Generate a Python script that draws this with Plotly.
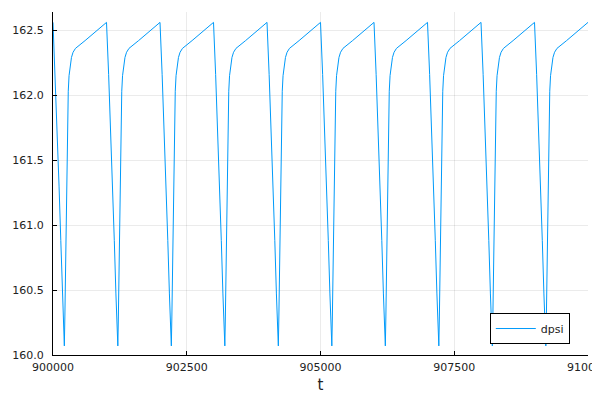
import plotly.graph_objects as go

# One period of the dpsi curve: offset from each peak (t) and value
cycle_offsets = [0, 40, 80, 113, 146, 176, 200, 212, 222, 232, 242, 255, 270, 285, 300, 320, 345, 375, 420, 600, 800]
cycle_values = [162.56, 162.16, 161.73, 161.30, 160.88, 160.47, 160.15, 160.07, 160.30, 160.62, 160.95, 161.40, 161.82, 162.03, 162.15, 162.23, 162.29, 162.33, 162.36, 162.42, 162.49]
cycle_starts = [900000, 901000, 902000, 903000, 904000, 905000, 906000, 907000, 908000, 909000]
end_t = [910000]
end_value = [162.56]

t = [s + o for s in cycle_starts for o in cycle_offsets] + end_t
dpsi = [v for s in cycle_starts for v in cycle_values] + end_value

x_ticks = [900000, 902500, 905000, 907500, 910000]
x_labels = ["900000", "902500", "905000", "907500", "910000"]
y_ticks = [160.0, 160.5, 161.0, 161.5, 162.0, 162.5]
y_labels = ["160.0", "160.5", "161.0", "161.5", "162.0", "162.5"]

fig = go.Figure()
fig.add_trace(go.Scatter(x=t, y=dpsi, mode="lines", name="dpsi",
                         line=dict(color="#009AFA", width=1)))

axis_common = dict(showline=True, linecolor="black", linewidth=1, ticks="inside",
                   ticklen=4, tickcolor="black", tickwidth=1, showgrid=True,
                   gridcolor="rgba(0,0,0,0.08)", gridwidth=1, zeroline=False,
                   mirror=False, automargin=False, ticklabeloverflow="allow",
                   tickfont=dict(family="DejaVu Sans", size=11, color="#222"))

fig.update_layout(
    width=592, height=392,
    margin=dict(l=45, r=12, t=4, b=45),
    paper_bgcolor="white", plot_bgcolor="white",
    showlegend=True,
    legend=dict(x=0.966, y=0.032, xanchor="right", yanchor="bottom",
                bordercolor="black", borderwidth=1, bgcolor="white",
                itemwidth=40,
                font=dict(family="DejaVu Sans", size=11, color="#222")),
    xaxis=dict(range=[900000, 910000], tickvals=x_ticks, ticktext=x_labels,
               ticklabelstandoff=2,
               title=dict(text="t", font=dict(family="DejaVu Sans", size=15, color="#222"), standoff=6),
               **axis_common),
    yaxis=dict(range=[160.0, 162.64], tickvals=y_ticks, ticktext=y_labels,
               ticklabelstandoff=6, **axis_common),
)

fig.write_html("out.html")
